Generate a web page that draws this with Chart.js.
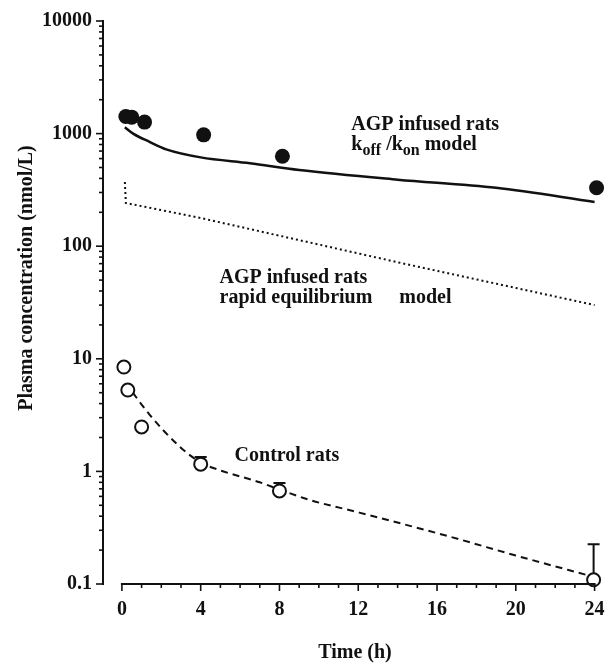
<!DOCTYPE html>
<html>
<head>
<meta charset="utf-8">
<script src="https://cdn.jsdelivr.net/npm/chart.js@4.4.0/dist/chart.umd.min.js"></script>
<style>
  html, body { margin: 0; padding: 0; background: #fff; }
  #wrap { width: 609px; height: 666px; }
</style>
</head>
<body>
<div id="wrap"><canvas id="chart" width="609" height="666"></canvas></div>
<script>
// measured points, AGP infused rats (filled circles)
const agpTime = [0.2, 0.5, 1.15, 4.15, 8.15, 24.1];
const agpConc = [1420, 1400, 1265, 975, 630, 330];

// koff/kon model curve (solid)
const koffTime = [0.15, 0.57, 1.4, 2.25, 4, 6.5, 9, 14, 19, 24];
const koffConc = [1140, 1000, 845, 725, 615, 545, 475, 390, 330, 247];

// rapid equilibrium model curve (dotted)
const rapidTime = [0.15, 0.2, 4, 14, 24];
const rapidConc = [372, 242, 178, 72, 30];

// control rats (open circles) + upper error bars
const ctlTime = [0.1, 0.3, 1.0, 4.0, 8.0, 23.95];
const ctlConc = [8.45, 5.28, 2.48, 1.16, 0.67, 0.109];
const ctlErrHi = [null, null, null, 1.34, 0.79, 0.226];

// control fit (dashed)
const ctlFitTime = [0.55, 1.4, 2.9, 4, 5, 7, 8, 9.5, 12, 16.6, 20, 24];
const ctlFitConc = [5.0, 3.2, 1.68, 1.2, 1.02, 0.8, 0.69, 0.56, 0.433, 0.265, 0.179, 0.115];

// axes
const xTicks = [0,1,2,3,4,5,6,7,8,9,10,11,12,13,14,15,16,17,18,19,20,21,22,23,24];
const xMajor = [0, 4, 8, 12, 16, 20, 24];
const yMajor = [0.1, 1, 10, 100, 1000, 10000];
const yTicks = [];
yMajor.forEach((d, i) => {
  yTicks.push(d);
  if (i < yMajor.length - 1) for (let k = 2; k <= 9; k++) yTicks.push(+(d * k).toPrecision(3));
});

const xTitle = 'Time (h)';
const yTitle = 'Plasma concentration (nmol/L)';

const FONT = '"Liberation Serif", "Times New Roman", serif';
const INK = '#111';

const pts = (xs, ys) => xs.map((x, i) => ({ x: x, y: ys[i] }));

// error bars, axis lines/ticks, titles and annotations
const decor = {
  id: 'decor',
  beforeDatasetsDraw(chart) {
    const c = chart.ctx, xs = chart.scales.x, ys = chart.scales.y;
    c.save();
    c.strokeStyle = INK;
    c.lineWidth = 2;
    ctlTime.forEach((t, i) => {
      if (ctlErrHi[i] == null) return;
      const px = xs.getPixelForValue(t);
      const y0 = ys.getPixelForValue(ctlConc[i]);
      const y1 = ys.getPixelForValue(ctlErrHi[i]);
      c.beginPath();
      c.moveTo(px, y0); c.lineTo(px, y1);
      c.moveTo(px - 6, y1); c.lineTo(px + 6, y1);
      c.stroke();
    });
    c.restore();
  },
  afterDraw(chart) {
    const c = chart.ctx, xs = chart.scales.x, ys = chart.scales.y;
    const a = chart.chartArea;
    c.save();
    c.strokeStyle = INK;
    c.lineWidth = 2;
    c.lineCap = 'butt';
    // y axis
    c.beginPath();
    c.moveTo(a.left, ys.getPixelForValue(10000) - 1);
    c.lineTo(a.left, ys.getPixelForValue(0.1) + 1);
    c.stroke();
    c.lineWidth = 1.6;
    yTicks.forEach(v => {
      const py = ys.getPixelForValue(v);
      const len = yMajor.includes(v) ? 7 : 4;
      c.beginPath();
      c.moveTo(a.left - len, py); c.lineTo(a.left, py);
      c.stroke();
    });
    // x axis
    c.lineWidth = 2;
    c.beginPath();
    c.moveTo(xs.getPixelForValue(0) - 1, a.bottom);
    c.lineTo(xs.getPixelForValue(24) + 1, a.bottom);
    c.stroke();
    c.lineWidth = 1.6;
    xTicks.forEach(v => {
      const px = xs.getPixelForValue(v);
      const len = xMajor.includes(v) ? 7 : 4;
      c.beginPath();
      c.moveTo(px, a.bottom); c.lineTo(px, a.bottom + len);
      c.stroke();
    });

    // titles
    c.fillStyle = INK;
    c.font = 'bold 20px ' + FONT;
    c.textAlign = 'center';
    c.textBaseline = 'alphabetic';
    c.fillText(xTitle, 355, 658);
    c.save();
    c.translate(32, 278);
    c.rotate(-Math.PI / 2);
    c.fillText(yTitle, 0, 0);
    c.restore();

    // annotations (anchored in data units: left edge, baseline)
    c.textAlign = 'left';
    const at = (t, v) => [xs.getPixelForValue(t), ys.getPixelForValue(v)];
    let [x1, y1] = at(11.65, 1077);
    c.fillText('AGP infused rats', x1, y1);
    let [x2, y2] = at(11.65, 715);
    const parts = [['k', 20, 0], ['off', 16, 5], [' /k', 20, 0], ['on', 16, 5], [' model', 20, 0]];
    parts.forEach(p => {
      c.font = 'bold ' + p[1] + 'px ' + FONT;
      c.fillText(p[0], x2, y2 + p[2]);
      x2 += c.measureText(p[0]).width;
    });
    c.font = 'bold 20px ' + FONT;
    let [x3, y3] = at(4.96, 47.1);
    c.fillText('AGP infused rats', x3, y3);
    let [x4, y4] = at(4.96, 31.3);
    c.fillText('rapid equilibrium', x4, y4);
    let [x5, y5] = at(14.08, 31.3);
    c.fillText('model', x5, y5);
    let [x6, y6] = at(5.72, 1.24);
    c.fillText('Control rats', x6, y6);
    c.restore();
  }
};

const ctx = document.getElementById('chart').getContext('2d');
const chart = new Chart(ctx, {
  type: 'scatter',
  data: {
    datasets: [
      {
        label: 'Control rats',
        data: pts(ctlTime, ctlConc),
        showLine: false,
        pointRadius: 6.5,
        pointBorderWidth: 2,
        pointBackgroundColor: '#fff',
        pointBorderColor: INK
      },
      {
        label: 'AGP infused rats',
        data: pts(agpTime, agpConc),
        showLine: false,
        pointRadius: 7.5,
        pointBorderWidth: 0,
        pointBackgroundColor: INK,
        pointBorderColor: INK
      },
      {
        label: 'koff/kon model',
        data: pts(koffTime, koffConc),
        showLine: true,
        pointRadius: 0,
        borderColor: INK,
        borderWidth: 2.5,
        cubicInterpolationMode: 'monotone'
      },
      {
        label: 'rapid equilibrium model',
        data: pts(rapidTime, rapidConc),
        showLine: true,
        pointRadius: 0,
        borderColor: INK,
        borderWidth: 2,
        borderDash: [2, 3],
        tension: 0
      },
      {
        label: 'Control fit',
        data: pts(ctlFitTime, ctlFitConc),
        showLine: true,
        pointRadius: 0,
        borderColor: INK,
        borderWidth: 2,
        borderDash: [7, 5],
        cubicInterpolationMode: 'monotone'
      }
    ]
  },
  options: {
    responsive: false,
    animation: false,
    events: [],
    clip: false,
    layout: { padding: { top: 21, right: 7, left: 0, bottom: 0 } },
    plugins: { legend: { display: false }, tooltip: { enabled: false } },
    scales: {
      x: {
        type: 'linear',
        min: -0.96,
        max: 24.3,
        grid: { display: false, drawTicks: false },
        border: { display: false },
        afterBuildTicks: s => { s.ticks = xTicks.map(v => ({ value: v })); },
        afterFit: s => { s.height = 82; s.paddingLeft = 0; s.paddingRight = 0; },
        ticks: {
          autoSkip: false,
          maxRotation: 0,
          padding: 14,
          color: INK,
          font: { family: FONT, weight: 'bold', size: 20 },
          callback: v => xMajor.includes(v) ? String(v) : ''
        }
      },
      y: {
        type: 'logarithmic',
        min: 0.1,
        max: 10000,
        grid: { display: false, drawTicks: false },
        border: { display: false },
        afterBuildTicks: s => { s.ticks = yTicks.map(v => ({ value: v })); },
        afterFit: s => { s.width = 103; s.paddingTop = 0; s.paddingBottom = 0; },
        ticks: {
          autoSkip: false,
          padding: 11,
          color: INK,
          font: { family: FONT, weight: 'bold', size: 20 },
          callback: v => yMajor.includes(v) ? String(v) : ''
        }
      }
    }
  },
  plugins: [decor]
});
</script>
</body>
</html>
